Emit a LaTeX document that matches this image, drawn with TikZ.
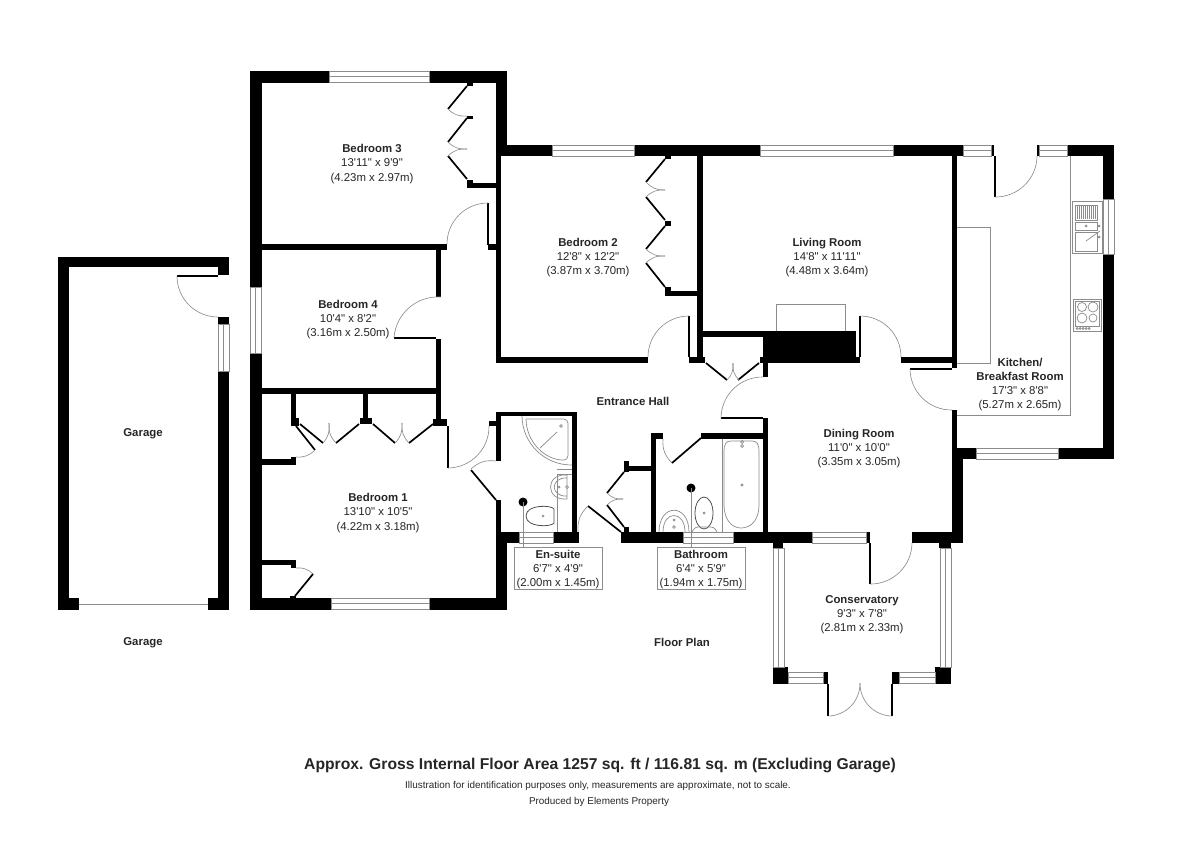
\documentclass[tikz,border=0pt]{standalone}
\usepackage{fontspec}
\newfontfamily\planfont{Liberation Sans}
\usetikzlibrary{calc, positioning}
\definecolor{mainBlack}{gray}{0.0}
\definecolor{subGray}{gray}{0.55}
\tikzset{
    wall/.style={fill=mainBlack},
    pane/.style={draw=subGray, line width=0.45pt, fill=white},
    leaf/.style={draw=mainBlack, line width=1.2pt},
    thinleaf/.style={draw=mainBlack, line width=0.8pt},
    swing/.style={draw=subGray, line width=0.45pt},
    fitting/.style={draw=subGray, line width=0.5pt},
    pan/.style={draw=black!70, line width=0.55pt},
    roomlabel/.style={font=\planfont\fontsize{8.1}{10}\selectfont, align=center, inner sep=0pt, text=black!85},
    namelabel/.style={font=\planfont\bfseries\fontsize{8.1}{10}\selectfont, align=center, inner sep=0pt, text=black!85},
    boxlabel/.style={roomlabel, draw=subGray, line width=0.45pt, fill=white, minimum width=2.2cm, minimum height=1.05cm},
    smallline/.style={font=\planfont\fontsize{7.05}{9}\selectfont, inner sep=0pt, text=black!85},
}
\newcommand{\hpane}[3]{% window in a horizontal wall: x1, x2, top y (11 px deep)
    \draw[pane] (#1,#3) rectangle (#2,#3+11);
    \draw[swing] (#1,#3+5.5) -- (#2,#3+5.5);}
\newcommand{\vpane}[3]{% window in a vertical wall
    \draw[pane] (#3,#1) rectangle (#3+11,#2);
    \draw[swing] (#3+5.5,#1) -- (#3+5.5,#2);}
\begin{document}
\begin{tikzpicture}[x=0.025cm, y=-0.025cm]
    \useasboundingbox[fill=white] (0,0) rectangle (1200,848);

    % Garage
    \foreach \xa/\ya/\xb/\yb in {58/257/229/267, 58/257/69/610, 58/598/79/610, 208/598/229/610,
        218/371/229/610, 218/317/229/324, 218/257/229/275}
        \fill[wall] (\xa,\ya) rectangle (\xb,\yb);
    \vpane{324}{371}{218}
    \draw[swing] (79,604) -- (208,604);
    \draw[thinleaf] (218,276) -- (177,276);
    \draw[swing] (177,276) to[bend right=45] (218,317);

    % Outer and inner walls, west side
    \foreach \xa/\ya/\xb/\yb in {250/71/507/83, 250/71/262/610, 250/598/507/610, 496/71/507/156,
        496/543/507/610, 496/145/552/156, 496/145/501/363, 262/244/447/250, 488/244/496/250,
        467/183/496/188, 467/180/473/188, 467/82/473/86, 467/116/473/119,
        436/250/441/297, 436/339/441/426, 262/388/441/394, 433/419/447/426,
        291/393/296/426, 291/418/299/426, 363/393/368/420, 360/418/372/424,
        262/459/296/465, 291/457/296/465, 262/560/296/565, 291/560/296/568, 290/596/296/598,
        489/421/496/426, 496/412/501/461, 496/500/501/543, 496/412/577/416, 572/412/577/543,
        496/532/519/543, 553/532/579/543}
        \fill[wall] (\xa,\ya) rectangle (\xb,\yb);

    % Windows, west side
    \hpane{329}{429}{71}
    \hpane{331}{429}{598}
    \vpane{287}{353}{250}
    \hpane{519}{553}{532}

    % Bedroom 3 doors
    \draw[leaf] (467,86) -- (448,109);
    \draw[leaf] (467,118) -- (448,142);
    \draw[leaf] (448,156) -- (467,179);
    \draw[swing] (448,109) to[bend right=25] (467,116);
    \draw[swing] (448,142) to[bend right=25] (467,149);
    \draw[swing] (448,156) to[bend left=25] (467,149);
    \draw[thinleaf] (488,203) -- (488,245);
    \draw[swing] (488,203) to[bend right=45] (447,244);

    % Bedroom 4 door
    \draw[thinleaf] (394,338) -- (436,338);
    \draw[swing] (441,297) to[bend right=45] (394,338);

    % Bedroom 1 doors
    \draw[thinleaf] (448,426) -- (448,468);
    \draw[swing] (448,468) to[bend right=45] (489,426);
    \draw[leaf] (471,470) -- (496,500);
    \draw[swing] (471,469) to[bend left=25] (496,461);
    \draw[leaf] (300,424) -- (323,443);
    \draw[leaf] (336,443) -- (359,424);
    \draw[leaf] (373,424) -- (395,443);
    \draw[leaf] (409,443) -- (433,424);
    \draw[swing] (323,443) to[bend right=25] (329,423);
    \draw[swing] (336,443) to[bend left=25] (329,423);
    \draw[swing] (395,443) to[bend right=25] (402,423);
    \draw[swing] (409,443) to[bend left=25] (402,423);
    \draw[leaf] (296,426) -- (315,450);
    \draw[swing] (315,450) to[bend left=25] (296,457);
    \draw[swing] (296,568) to[bend left=25] (313,574);
    \draw[leaf] (313,574) -- (295,596);

    % En-suite fittings
    \draw[fitting] (522,416) to[bend right=45] (572,465);
    \draw[fitting, rounded corners=3pt] (526,419) -- (568,419) -- (568,460) to[bend left=45] (526,419);
    \draw[fitting] (561,426) circle (1.3);
    \draw[fitting] (557,432) -- (540,448);
    \draw[fitting] (557,469) -- (572,469) (557,474) -- (572,474) (557,474) -- (557,532);
    \draw[fitting] (567,475) .. controls (545,473) and (545,501) .. (567,499) -- cycle;
    \draw[fitting] (567,478) .. controls (550,477) and (550,497) .. (567,496);
    \draw[fitting] (559,487) circle (1) (567,487) circle (1.5);
    \draw[pan] (526,516) .. controls (526,504) and (552,505) .. (554,509) -- (554,523) .. controls (552,527) and (526,528) .. (526,516) -- cycle;
    \draw[fitting] (543,516) circle (1);
    \coordinate (suiteDot) at (523,502);
    \fill[mainBlack] (suiteDot) circle (4.5);

    % Bathroom and airing cupboard walls
    \foreach \xa/\ya/\xb/\yb in {621/532/683/543, 733/532/812/543, 651/433/656/532, 651/433/663/439,
        624/461/629/472, 624/466/656/471, 624/527/629/532, 701/433/767/439, 763/418/768/532,
        763/363/768/377}
        \fill[wall] (\xa,\ya) rectangle (\xb,\yb);
    \hpane{683}{733}{532}

    \draw[leaf] (624,472) -- (607,493);
    \draw[leaf] (607,505) -- (624,527);
    \draw[swing] (607,493) to[bend right=25] (623,499);
    \draw[swing] (607,505) to[bend left=25] (623,499);
    \draw[leaf] (588,506) -- (621,532);
    \draw[swing] (588,506) to[bend right=25] (578,532);
    \draw[swing] (663,439) to[bend right=25] (672,463);
    \draw[leaf] (672,463) -- (701,438);

    % Bathroom fittings
    \draw[fitting] (722,439) -- (722,532);
    \draw[fitting] (724,452) .. controls (724,444) and (726,441) .. (731,441) -- (752,441) .. controls (757,441) and (759,444) .. (759,452) -- (759,505) .. controls (759,520) and (751,528) .. (741,528) .. controls (732,528) and (724,520) .. (724,505) -- cycle;
    \draw[fitting] (742,442) circle (1.5) (742,446) circle (1.5);
    \draw[fitting] (742,485) circle (1.2);
    \draw[pan] (704,513) ellipse (9 and 16);
    \draw[fitting] (704,513) circle (1);
    \draw[fitting, rounded corners=2pt] (692,532) -- (695,527) -- (714,527) -- (717,532);
    \draw[fitting] (659,532) .. controls (659,503) and (689,503) .. (689,532);
    \draw[fitting] (663,532) .. controls (663,510) and (685,510) .. (685,532);
    \draw[fitting] (674,520) circle (1) (674,527) circle (1.3);
    \coordinate (bathDot) at (691,488);
    \fill[mainBlack] (bathDot) circle (4.5);

    % Bedroom 2 and living room walls
    \foreach \xa/\ya/\xb/\yb in {552/145/760/156, 893/145/963/156, 697/156/703/363, 665/156/671/159,
        665/221/671/226, 665/287/671/296, 665/291/697/296, 496/357/648/363, 689/357/705/363,
        703/331/763/337, 763/331/856/363, 856/357/860/363, 760/357/763/363, 901/357/957/363,
        952/156/957/368, 952/410/957/459}
        \fill[wall] (\xa,\ya) rectangle (\xb,\yb);
    \hpane{552}{634}{145}
    \hpane{760}{893}{145}

    \draw[leaf] (665,159) -- (646,182);
    \draw[leaf] (646,197) -- (665,220);
    \draw[leaf] (665,226) -- (646,249);
    \draw[leaf] (646,263) -- (665,287);
    \draw[swing] (646,182) to[bend right=25] (665,190);
    \draw[swing] (646,197) to[bend left=25] (665,190);
    \draw[swing] (646,249) to[bend right=25] (665,256);
    \draw[swing] (646,263) to[bend left=25] (665,256);
    \draw[thinleaf] (689,316) -- (689,357);
    \draw[swing] (689,316) to[bend right=45] (648,357);

    % Hall cupboard and dining room doors
    \draw[leaf] (706,363) -- (727,380);
    \draw[leaf] (738,380) -- (759,363);
    \draw[swing] (727,380) to[bend right=25] (733,363);
    \draw[swing] (739,380) to[bend left=25] (733,363);
    \draw[thinleaf] (721,418) -- (763,418);
    \draw[swing] (721,418) to[bend left=45] (763,377);
    \draw[thinleaf] (860,316) -- (860,357);
    \draw[swing] (860,316) to[bend left=45] (901,357);
    \draw[thinleaf] (910,369) -- (952,369);
    \draw[swing] (910,369) to[bend right=45] (952,410);
    \draw[fitting] (776,331) -- (776,304) -- (845,304) -- (845,331);

    % Kitchen walls and fittings
    \foreach \xa/\ya/\xb/\yb in {991/145/994/156, 1037/145/1039/156, 1067/145/1114/156, 1103/145/1114/199,
        1103/254/1114/459, 952/448/976/459, 1058/448/1114/459, 952/448/963/543, 912/532/963/543,
        866/532/870/543}
        \fill[wall] (\xa,\ya) rectangle (\xb,\yb);
    \hpane{963}{991}{145}
    \hpane{1039}{1067}{145}
    \hpane{976}{1058}{448}
    \vpane{199}{254}{1103}
    \hpane{812}{866}{532}
    \draw[thinleaf] (995,156) -- (995,197);
    \draw[swing] (995,197) to[bend right=45] (1037,156);
    \draw[fitting] (1070,156) -- (1070,415) -- (957,415);
    \draw[fitting] (957,227) -- (990,227) -- (990,363) -- (957,363);
    \draw[fitting] (1072,201) rectangle (1102,253);
    \draw[fitting] (1075,205) rectangle (1097,220);
    \foreach \x in {1077,1079,...,1095}
        \draw[fitting] (\x,206) -- (\x,219);
    \draw[fitting] (1075,222) rectangle (1097,230);
    \draw[fitting] (1075,232) rectangle (1097,251);
    \draw[fitting] (1086,241) -- (1100,231);
    \draw[fitting] (1086,226) circle (1) (1099,226) circle (1) (1099,237) circle (1);
    \draw[fitting] (1073,299) rectangle (1101,331);
    \draw[fitting] (1075,301) rectangle (1099,326);
    \draw[fitting] (1082,307) circle (4.5) (1093,307) circle (5) (1082,318) circle (5) (1093,318) circle (4);
    \foreach \x in {1077,1080,...,1089}
        \draw[fitting] (\x,328.5) circle (1);

    % Conservatory
    \foreach \xa/\ya/\xb/\yb in {773/543/783/548, 939/543/951/548, 773/667/788/684, 823/672/828/684,
        892/672/899/684, 935/667/951/684}
        \fill[wall] (\xa,\ya) rectangle (\xb,\yb);
    \vpane{548}{667}{773}
    \vpane{548}{667}{940}
    \hpane{788}{823}{672}
    \hpane{899}{935}{672}
    \draw[thinleaf] (870,543) -- (870,584);
    \draw[swing] (870,584) to[bend right=45] (912,543);
    \draw[thinleaf] (828,684) -- (828,716);
    \draw[thinleaf] (892,684) -- (892,716);
    \draw[swing] (828,716) to[bend right=45] (860,683);
    \draw[swing] (892,716) to[bend left=45] (860,683);

    % Labels
    \node[roomlabel] (bedThree) at (372,164) {\textbf{Bedroom 3}\\13'11" x 9'9"\\(4.23m x 2.97m)};
    \node[roomlabel] (bedFour) at (348,319.5) {\textbf{Bedroom 4}\\10'4" x 8'2"\\(3.16m x 2.50m)};
    \node[roomlabel] (bedTwo) at (588,257.5) {\textbf{Bedroom 2}\\12'8" x 12'2"\\(3.87m x 3.70m)};
    \node[roomlabel] (bedOne) at (378,513) {\textbf{Bedroom 1}\\13'10" x 10'5"\\(4.22m x 3.18m)};
    \node[roomlabel] (living) at (827,257.5) {\textbf{Living Room}\\14'8" x 11'11"\\(4.48m x 3.64m)};
    \node[roomlabel] (dining) at (859,448.5) {\textbf{Dining Room}\\11'0" x 10'0"\\(3.35m x 3.05m)};
    \node[roomlabel] (kitchen) at (1020,384.5) {\textbf{Kitchen/}\\\textbf{Breakfast Room}\\17'3" x 8'8"\\(5.27m x 2.65m)};
    \node[roomlabel] (conserv) at (862,615) {\textbf{Conservatory}\\9'3" x 7'8"\\(2.81m x 2.33m)};
    \node[namelabel] (hall) at (633,401) {Entrance Hall};
    \node[namelabel] (garageRoom) at (143,434) {Garage};
    \node[namelabel] (garageName) at (143,643) {Garage};
    \node[namelabel] (floorName) at (682,642) {Floor Plan};
    \node[boxlabel] (suite) at (558,568) {\rule{0pt}{8pt}\textbf{En-suite}\\6'7" x 4'9"\\(2.00m x 1.45m)};
    \node[boxlabel] (bath) at (701,568) {\rule{0pt}{8pt}\textbf{Bathroom}\\6'4" x 5'9"\\(1.94m x 1.75m)};
    \draw[swing] (suiteDot) -- (suiteDot |- suite.north);
    \draw[swing] (bathDot) -- (bathDot |- bath.north);

    \node[namelabel, font=\planfont\bfseries\fontsize{11.15}{13}\selectfont] (areaLine) at (600,765.5) {Approx. Gross Internal Floor Area 1257 sq. ft / 116.81 sq. m (Excluding Garage)};
    \node[smallline] (noteLine) at (598,786) {Illustration for identification purposes only, measurements are approximate, not to scale.};
    \node[smallline] (creditLine) at (599,802) {Produced by Elements Property};
\end{tikzpicture}
\end{document}
